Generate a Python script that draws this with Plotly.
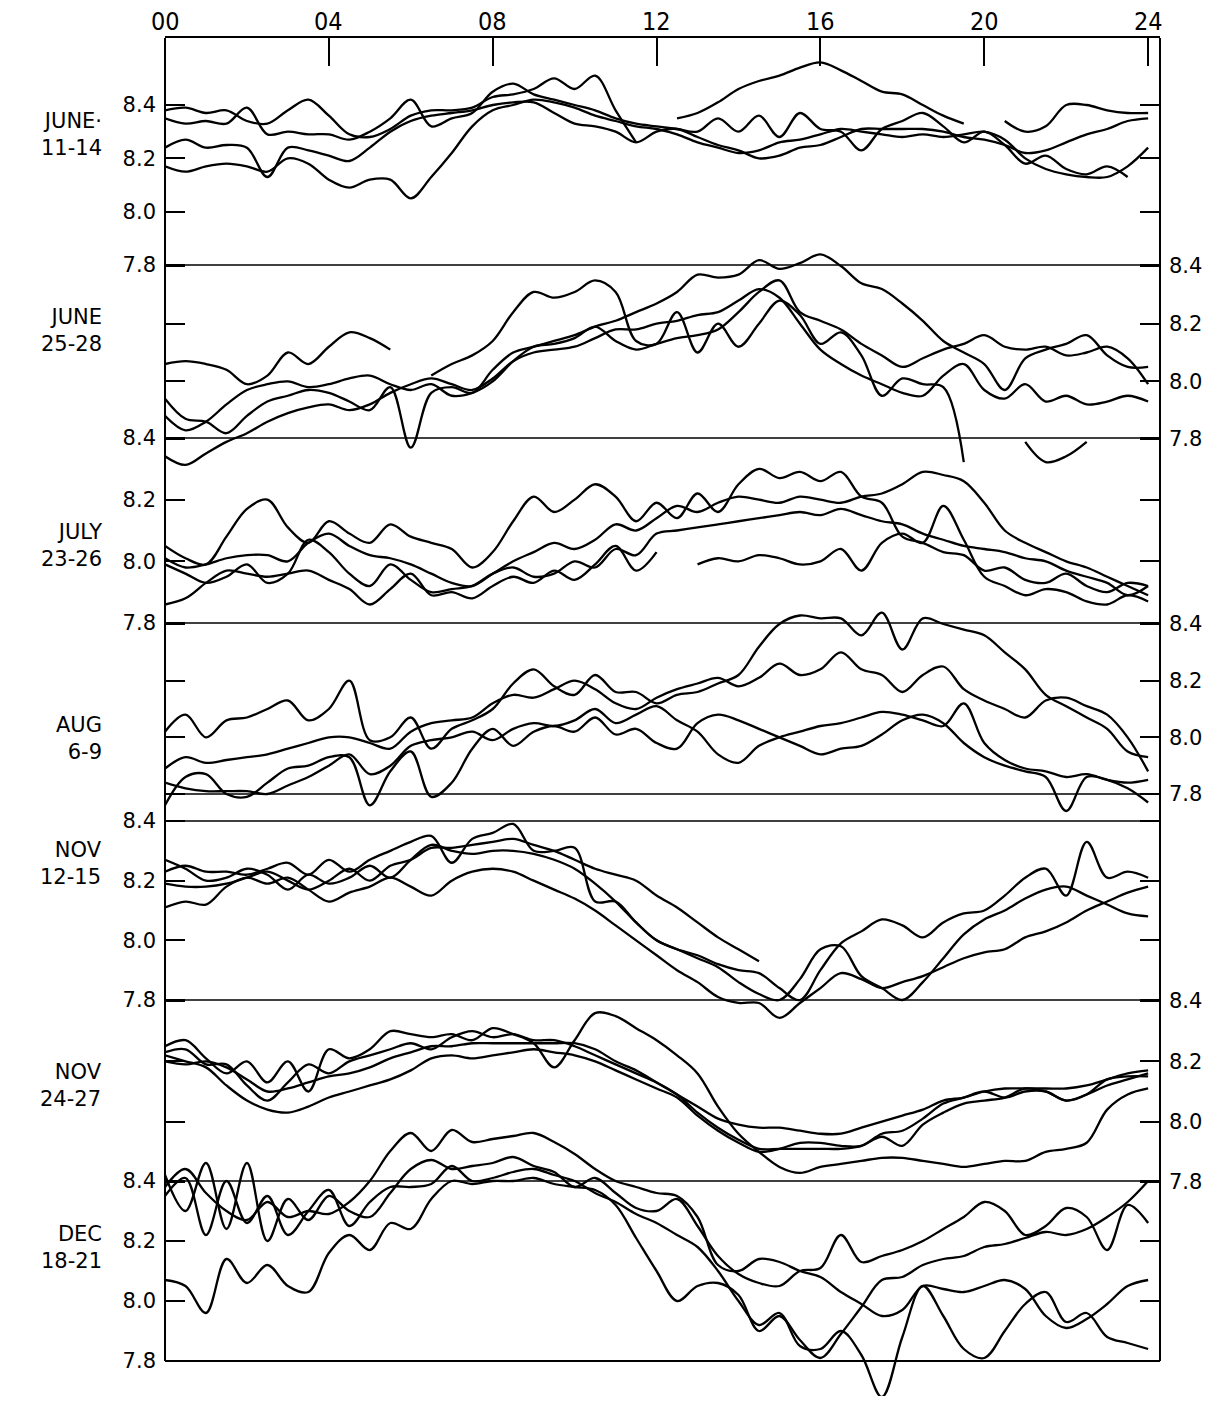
import plotly.graph_objects as go

# ---------------- data ----------------
HOURS = [h / 2 for h in range(49)]          # 00 .. 24 h, half-hour readings
HOUR_TICKS = [0, 4, 8, 12, 16, 20, 24]
HOUR_LABELS = ["00", "04", "08", "12", "16", "20", "24"]
PH_TICKS = [7.8, 8.0, 8.2, 8.4]
PH_LABELS = ["7.8", "8.0", "8.2", "8.4"]
PERIODS = ["JUNE·<br>11-14", "JUNE<br>25-28", "JULY<br>23-26", "AUG<br>6-9",
           "NOV<br>12-15", "NOV<br>24-27", "DEC<br>18-21"]
N = None

JUNE_11_14 = [
    [8.38,8.39,8.37,8.38,8.34,8.33,8.38,8.42,8.36,8.29, 8.28,8.31,8.36,8.38,8.38,8.39,8.43,8.44,8.46,8.50,
     8.46,8.51,8.38,8.26,N,8.35,8.37,8.41,8.46,8.49, 8.51,8.54,8.56,8.53,8.49,8.45,8.44,8.40,8.36,8.33,
     N,8.34,8.30,8.32,8.40,8.40,8.38,8.37,8.37],
    [8.35,8.33,8.34,8.33,8.39,8.29,8.30,8.29,8.29,8.27, 8.30,8.35,8.42,8.32,8.35,8.37,8.45,8.48,8.44,8.42,
     8.40,8.38,8.35,8.33,8.32,8.31,8.30,8.35,8.30,8.36, 8.28,8.37,8.31,8.30,8.23,8.31,8.34,8.37,8.32,8.26,
     8.30,8.25,8.18,8.21,8.16,8.14,8.17,8.13,N],
    [8.24,8.27,8.24,8.25,8.24,8.13,8.24,8.23,8.21,8.19, 8.24,8.30,8.34,8.36,8.37,8.38,8.40,8.41,8.41,8.37,
     8.33,8.32,8.30,8.26,8.30,8.31,8.28,8.25,8.23,8.20, 8.21,8.24,8.25,8.28,8.31,8.31,8.31,8.31,8.30,8.28,
     8.27,8.25,8.22,8.23,8.26,8.29,8.31,8.34,8.35],
    [8.17,8.15,8.17,8.18,8.17,8.15,8.20,8.18,8.12,8.09, 8.12,8.12,8.05,8.13,8.22,8.32,8.38,8.40,8.42,8.41,
     8.39,8.36,8.34,8.32,8.31,8.29,8.26,8.24,8.22,8.23, 8.26,8.27,8.29,8.31,8.30,8.29,8.28,8.29,8.28,8.29,
     8.30,8.27,8.20,8.16,8.14,8.13,8.13,8.17,8.24],
]
JUNE_25_28 = [
    [8.06,8.07,8.06,8.04,7.99,8.02,8.10,8.06,8.12,8.17, 8.15,8.11,N,8.02,8.06,8.09,8.14,8.24,8.31,8.29,
     8.31,8.35,8.31,8.14,8.13,8.24,8.10,8.20,8.12,8.20, 8.28,8.23,8.13,8.17,8.09,7.95,8.01,7.99,7.98,7.72,
     N,N,7.79,7.72,7.74,7.79,N,N,N],
    [7.94,7.87,7.86,7.82,7.88,7.93,7.95,7.97,7.96,7.93, 7.90,7.98,7.77,7.96,7.98,7.96,8.04,8.10,8.12,8.14,
     8.16,8.19,8.21,8.24,8.27,8.31,8.37,8.36,8.37,8.42, 8.39,8.41,8.44,8.40,8.34,8.32,8.27,8.21,8.14,8.10,
     8.06,7.97,8.08,8.11,8.13,8.16,8.09,8.05,8.05],
    [7.88,7.83,7.86,7.92,7.97,7.99,8.00,7.98,7.99,8.01, 8.02,7.99,7.97,7.99,7.95,7.96,8.00,8.07,8.12,8.13,
     8.15,8.19,8.14,8.11,8.13,8.15,8.16,8.18,8.24,8.31, 8.35,8.24,8.21,8.18,8.13,8.09,8.05,8.08,8.11,8.13,
     8.16,8.12,8.11,8.12,8.09,8.10,8.12,8.08,7.99],
    [7.74,7.71,7.75,7.79,7.82,7.86,7.89,7.91,7.92,7.90, 7.92,7.96,7.99,8.01,7.99,7.97,8.01,8.07,8.10,8.11,
     8.12,8.15,8.18,8.18,8.20,8.21,8.23,8.24,8.28,8.32, 8.29,8.20,8.11,8.06,8.02,7.99,7.96,7.95,8.02,8.06,
     7.97,7.94,7.99,7.93,7.95,7.92,7.93,7.95,7.93],
]
JULY_23_26 = [
    [8.05,8.01,7.99,8.08,8.17,8.20,8.11,8.06,8.13,8.09, 8.06,8.12,8.08,8.06,8.04,7.98,8.03,8.13,8.21,8.16,
     8.20,8.25,8.21,8.13,8.19,8.14,8.22,8.16,8.25,8.30, 8.27,8.29,8.26,8.29,8.21,8.19,8.08,8.06,8.03,8.02,
     7.97,7.98,7.94,7.93,7.96,7.92,7.90,7.93,7.92],
    [8.01,7.98,7.99,8.01,8.02,8.02,8.00,8.06,8.09,8.05, 8.02,8.01,7.99,7.96,7.93,7.92,7.96,8.00,8.03,8.06,
     8.04,8.07,8.12,8.10,8.14,8.18,8.16,8.19,8.21,8.20, 8.19,8.21,8.20,8.19,8.21,8.22,8.25,8.29,8.28,8.26,
     8.19,8.10,8.06,8.03,8.00,7.98,7.95,7.92,7.89],
    [7.99,7.96,7.93,7.95,7.99,7.93,7.96,8.07,8.03,7.96, 7.92,7.99,7.94,7.90,7.91,7.92,7.96,7.98,7.95,7.96,
     8.00,7.98,8.04,8.02,8.09,8.10,8.11,8.12,8.13,8.14, 8.15,8.16,8.15,8.17,8.15,8.13,8.12,8.09,8.07,8.05,
     8.04,8.03,8.01,8.00,7.97,7.95,7.93,7.89,7.92],
    [7.86,7.88,7.93,7.97,7.96,7.95,7.96,7.97,7.94,7.91, 7.86,7.91,7.96,7.89,7.90,7.88,7.92,7.95,7.93,7.97,
     7.94,7.99,8.05,7.97,8.03,N,7.99,8.01,8.00,8.02, 8.01,7.99,8.00,8.04,7.97,8.06,8.09,8.06,8.18,8.07,
     7.95,7.92,7.89,7.91,7.90,7.87,7.86,7.89,7.87],
]
AUG_6_9 = [
    [8.02,8.08,8.00,8.06,8.07,8.10,8.13,8.06,8.10,8.20, 7.99,8.00,8.07,7.96,8.03,8.06,8.10,8.19,8.24,8.18,
     8.15,8.22,8.16,8.16,8.12,8.15,8.16,8.19,8.22,8.32, 8.40,8.43,8.42,8.42,8.36,8.44,8.31,8.42,8.40,8.38,
     8.36,8.30,8.24,8.15,8.11,8.07,8.03,7.95,7.93],
    [7.89,7.93,7.91,7.92,7.93,7.94,7.96,7.98,8.00,8.00, 7.98,7.96,8.02,8.05,8.06,8.07,8.12,8.15,8.14,8.17,
     8.20,8.17,8.12,8.10,8.14,8.17,8.19,8.21,8.18,8.21, 8.26,8.22,8.24,8.30,8.24,8.22,8.16,8.22,8.25,8.17,
     8.13,8.10,8.07,8.13,8.14,8.11,8.08,8.00,7.88],
    [7.84,7.82,7.81,7.81,7.81,7.80,7.83,7.86,7.90,7.94, 7.87,7.90,7.97,7.99,8.00,8.02,7.99,8.03,8.05,8.04,
     8.06,8.10,8.05,8.08,8.11,8.06,8.02,7.94,7.91,7.97, 8.00,8.02,8.04,8.05,8.07,8.09,8.08,8.06,8.04,8.12,
     7.98,7.92,7.89,7.88,7.86,7.87,7.85,7.84,7.85],
    [7.76,7.86,7.87,7.80,7.79,7.84,7.89,7.90,7.93,7.93, 7.76,7.88,7.95,7.79,7.84,7.96,8.03,7.97,8.02,8.04,
     8.02,8.07,8.01,8.03,7.98,7.96,8.05,8.08,8.06,8.03, 8.00,7.97,7.94,7.96,7.97,8.01,8.06,8.08,8.05,7.98,
     7.93,7.90,7.88,7.86,7.74,7.86,7.85,7.82,7.77],
]
NOV_12_15 = [
    [8.23,8.25,8.23,8.23,8.22,8.24,8.26,8.22,8.27,8.23, 8.27,8.30,8.33,8.35,8.26,8.34,8.36,8.39,8.30,8.30,
     8.31,8.13,8.13,8.06,8.00,7.97,7.94,7.91,7.86,7.82, 7.80,7.87,7.97,7.98,7.88,7.84,7.80,7.86,7.94,8.02,
     8.07,8.10,8.14,8.17,8.18,8.15,8.12,8.09,8.08],
    [8.19,8.18,8.18,8.19,8.21,8.23,8.20,8.17,8.20,8.24, 8.20,8.25,8.27,8.31,8.31,8.32,8.33,8.34,8.32,8.30,
     8.27,8.24,8.22,8.20,8.15,8.11,8.06,8.01,7.97,7.93, N,N,N,N,N,N,N,N,N,N,
     N,N,N,N,N,N,N,N,N],
    [8.27,8.24,8.20,8.21,8.24,8.22,8.17,8.22,8.19,8.21, 8.25,8.21,8.27,8.32,8.30,8.29,8.30,8.30,8.29,8.27,
     8.24,8.19,8.13,8.06,8.00,7.97,7.95,7.92,7.90,7.89, 7.84,7.80,7.90,7.99,8.03,8.07,8.05,8.01,8.06,8.09,
     8.10,8.15,8.21,8.24,8.15,8.33,8.21,8.23,8.21],
    [8.11,8.13,8.12,8.18,8.21,8.19,8.21,8.17,8.13,8.16, 8.18,8.21,8.18,8.15,8.20,8.23,8.24,8.23,8.20,8.17,
     8.14,8.10,8.05,8.00,7.95,7.90,7.86,7.81,7.79,7.79, 7.74,7.79,7.84,7.89,7.87,7.84,7.86,7.88,7.91,7.94,
     7.96,7.97,8.01,8.03,8.06,8.10,8.13,8.16,8.18],
]
NOV_24_27 = [
    [8.25,8.27,8.21,8.16,8.20,8.13,8.20,8.10,8.24,8.21, 8.24,8.30,8.29,8.28,8.29,8.27,8.31,8.29,8.26,8.18,
     8.27,8.36,8.35,8.31,8.27,8.22,8.16,8.05,7.96,7.90, 7.85,7.83,7.85,7.86,7.87,7.88,7.88,7.87,7.86,7.85,
     7.86,7.87,7.87,7.90,7.91,7.93,8.04,8.09,8.11],
    [8.22,8.20,8.18,8.12,8.07,8.04,8.03,8.05,8.08,8.10, 8.12,8.14,8.17,8.21,8.22,8.21,8.22,8.23,8.24,8.23,
     8.22,8.20,8.17,8.14,8.11,8.08,8.02,7.97,7.93,7.90, 7.91,7.93,7.93,7.92,7.92,7.96,7.97,8.01,8.06,8.08,
     8.10,8.08,8.10,8.10,8.07,8.09,8.14,8.15,8.15],
    [8.20,8.19,8.20,8.18,8.14,8.10,8.11,8.13,8.15,8.16, 8.18,8.21,8.23,8.25,8.25,8.26,8.26,8.26,8.26,8.26,
     8.26,8.24,8.20,8.17,8.13,8.09,8.05,8.01,7.99,7.98, 7.98,7.97,7.96,7.96,7.98,8.00,8.02,8.04,8.07,8.08,
     8.10,8.11,8.11,8.11,8.11,8.12,8.14,8.16,8.17],
    [8.23,8.24,8.19,8.19,8.12,8.07,8.13,8.19,8.16,8.20, 8.22,8.24,8.26,8.24,8.28,8.30,8.28,8.29,8.27,8.27,
     8.25,8.22,8.19,8.16,8.13,8.09,8.03,7.98,7.94,7.91, 7.91,7.91,7.91,7.91,7.92,7.95,7.92,7.99,8.03,8.06,
     8.07,8.08,8.11,8.10,8.07,8.09,8.12,8.14,8.16],
]
DEC_18_21 = [
    [8.38,8.44,8.36,8.30,8.27,8.33,8.28,8.30,8.29,8.33, 8.40,8.50,8.56,8.50,8.57,8.53,8.54,8.55,8.56,8.53,
     8.49,8.44,8.40,8.38,8.36,8.35,8.28,8.12,8.10,8.14, 8.13,8.10,8.08,8.03,7.99,7.95,7.97,8.05,8.04,8.03,
     8.05,8.07,8.04,7.95,7.91,7.94,7.99,8.05,8.07],
    [8.42,8.30,8.46,8.24,8.46,8.20,8.34,8.27,8.35,8.30, 8.28,8.36,8.44,8.47,8.44,8.45,8.46,8.48,8.45,8.43,
     8.38,8.41,8.36,8.31,8.30,8.34,8.25,8.15,8.09,8.06, 8.05,8.10,8.11,8.22,8.13,8.15,8.17,8.20,8.24,8.28,
     8.33,8.30,8.22,8.25,8.31,8.28,8.17,8.32,8.26],
    [8.35,8.41,8.22,8.40,8.26,8.35,8.22,8.30,8.37,8.25, 8.33,8.38,8.38,8.39,8.45,8.40,8.41,8.43,8.44,8.42,
     8.40,8.36,8.33,8.29,8.26,8.22,8.18,8.10,8.00,7.92, 7.96,7.85,7.84,7.90,7.82,7.68,7.88,8.05,7.95,7.84,
     7.81,7.90,7.99,8.03,7.93,7.96,7.88,7.86,7.84],
    [8.07,8.05,7.96,8.14,8.06,8.12,8.05,8.03,8.16,8.22, 8.17,8.26,8.24,8.34,8.40,8.39,8.40,8.40,8.41,8.39,
     8.38,8.37,8.32,8.21,8.10,8.00,8.05,8.06,8.02,7.90, 7.95,7.87,7.81,7.89,7.98,8.07,8.08,8.12,8.14,8.15,
     8.18,8.19,8.21,8.23,8.22,8.24,8.28,8.33,8.40],
]
PANELS = [JUNE_11_14, JUNE_25_28, JULY_23_26, AUG_6_9, NOV_12_15, NOV_24_27, DEC_18_21]

# ---------------- layout geometry ----------------
PAGE_OFF = 8                      # default body margin of the html page
W, H = 1195, 1388                 # figure size, kept inside the 1217 x 1406 window
BOX_L, BOX_R, BOX_T = 165, 1160, 38   # target page pixels of the plotting box
M_L = BOX_L - PAGE_OFF
M_T = BOX_T - PAGE_OFF
M_R = W - (BOX_R - PAGE_OFF)
M_B = 0
PLOT_H = H - M_T - M_B
PLOT_BOTTOM = PAGE_OFF + H - M_B  # page row of the bottom of the plotting area
# page rows of the 8.4 and 7.8 levels of each panel
LEVELS = [(105, 265), (266, 439), (438, 623), (624, 794), (821, 1000), (1001, 1182), (1181, 1361)]
SIDES = ["left", "right", "left", "right", "left", "right", "left"]
LABEL_CENTERS = [135, 330, 545, 739, 863, 1085, 1247]
LABEL_RIGHT = 104
HOUR_LABEL_ROW = 21

TICK_FONT = dict(family="DejaVu Sans, Liberation Sans, sans-serif", size=21, color="black")
HOUR_FONT = dict(family="Liberation Sans Narrow, DejaVu Sans Condensed, DejaVu Sans, sans-serif",
                 size=25, color="black")
LABEL_FONT = dict(family="DejaVu Sans, Liberation Sans, sans-serif", size=21, color="black")

fig = go.Figure()
ranges = []
for i, (top_px, bot_px) in enumerate(LEVELS):
    s = (bot_px - top_px) / 0.6
    r0 = 7.8 - (PLOT_BOTTOM - bot_px) / s
    r1 = r0 + PLOT_H / s
    ranges.append((r0, r1))
    yname = "y" if i == 0 else f"y{i+1}"
    for day in PANELS[i]:
        fig.add_trace(go.Scatter(
            x=HOURS[:len(day)], y=day, mode="lines", yaxis=yname, xaxis="x",
            line=dict(color="black", width=2.3, shape="spline", smoothing=1.0),
            connectgaps=False, hoverinfo="skip", showlegend=False))
    ax = dict(range=[r0, r1], tickvals=PH_TICKS, ticktext=PH_LABELS,
              ticks="inside", ticklen=20, tickwidth=1.5, tickcolor="black",
              mirror="ticks", showline=False, showgrid=False, zeroline=False,
              side=SIDES[i], tickfont=TICK_FONT, ticklabelstandoff=8, anchor="x",
              automargin=False)
    if i == 0:
        ax["domain"] = [0, 1]
    else:
        ax["overlaying"] = "y"
    fig.update_layout(**{("yaxis" if i == 0 else f"yaxis{i+1}"): ax})

fig.update_layout(
    width=W, height=H,
    margin=dict(l=M_L, r=M_R, t=M_T, b=M_B, autoexpand=False),
    paper_bgcolor="white", plot_bgcolor="white",
    xaxis=dict(side="top", range=[0, 24.29], tickvals=HOUR_TICKS, showticklabels=False,
               ticks="inside", ticklen=28, tickwidth=1.5, tickcolor="black",
               showline=True, linewidth=2, linecolor="black", mirror=False,
               showgrid=False, zeroline=False, automargin=False),
    showlegend=False,
)

shapes = []
r7 = ranges[6]
for xp in (0, 1):
    shapes.append(dict(type="line", xref="paper", yref="y7", x0=xp, x1=xp, y0=7.8, y1=r7[1],
                       line=dict(color="black", width=2)))
shapes.append(dict(type="line", xref="paper", yref="y7", x0=0, x1=1, y0=7.8, y1=7.8,
                   line=dict(color="black", width=2)))
for yref, val in [("y", 7.8), ("y3", 8.4), ("y3", 7.8), ("y4", 7.8), ("y5", 8.4), ("y5", 7.8), ("y7", 8.4)]:
    shapes.append(dict(type="line", xref="paper", yref=yref, x0=0, x1=1, y0=val, y1=val,
                       line=dict(color="black", width=1.6)))
fig.update_layout(shapes=shapes)

annotations = []
# hour labels along the top axis, placed at the hour values of the x axis
for hv, txt in zip(HOUR_TICKS, HOUR_LABELS):
    annotations.append(dict(
        text=txt, xref="x", yref="paper", x=hv, y=(PLOT_BOTTOM - HOUR_LABEL_ROW) / PLOT_H,
        xanchor="center", yanchor="middle", showarrow=False, font=HOUR_FONT))
x_lab = (LABEL_RIGHT - BOX_L) / (BOX_R - BOX_L)
for label, yc in zip(PERIODS, LABEL_CENTERS):
    annotations.append(dict(
        text=label, xref="paper", yref="paper",
        x=x_lab, y=(PLOT_BOTTOM - yc) / PLOT_H,
        xanchor="right", yanchor="middle", align="right", showarrow=False,
        font=LABEL_FONT))
fig.update_layout(annotations=annotations)

fig.write_html("out.html")
